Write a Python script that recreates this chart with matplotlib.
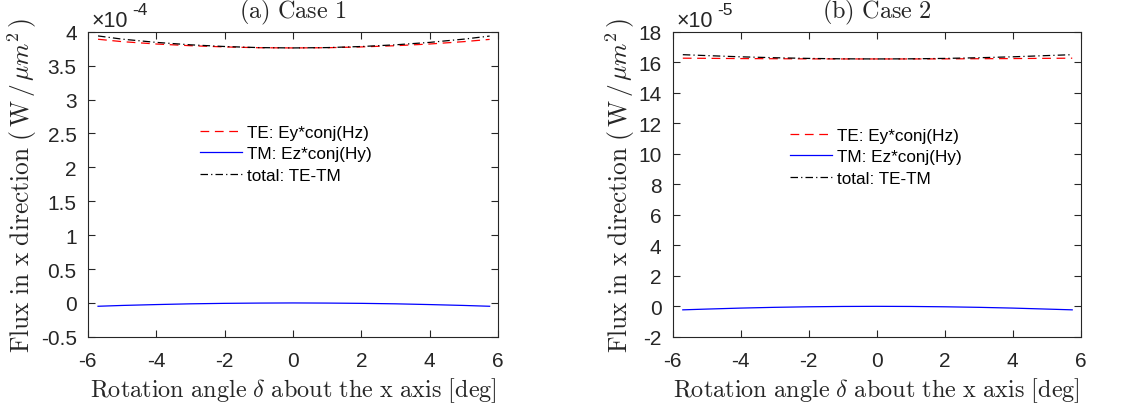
import matplotlib
matplotlib.use("Agg")
import matplotlib.pyplot as plt
import numpy as np

plt.rcParams['mathtext.fontset'] = 'cm'
plt.rcParams['font.family'] = ['Liberation Sans', 'DejaVu Sans']

# rotation angles (deg)
angle = [-5.7, -5.0, -4.0, -3.0, -2.0, -1.0, 0.0, 1.0, 2.0, 3.0, 4.0, 5.0, 5.75]

# case 1, units of 1e-4 W/um^2
te_case1 = [3.89, 3.855, 3.82, 3.795, 3.777, 3.765, 3.762, 3.765, 3.777, 3.795, 3.82, 3.855, 3.888]
tm_case1 = [-0.049, -0.037, -0.024, -0.013, -0.006, -0.002, 0.0, -0.002, -0.006, -0.013, -0.024, -0.037, -0.049]
tot_case1 = [3.939, 3.892, 3.844, 3.808, 3.783, 3.767, 3.762, 3.767, 3.783, 3.808, 3.844, 3.892, 3.937]

# case 2, units of 1e-5 W/um^2
te_case2 = [16.27, 16.26, 16.245, 16.235, 16.225, 16.22, 16.22, 16.22, 16.225, 16.235, 16.245, 16.26, 16.27]
tm_case2 = [-0.23, -0.18, -0.115, -0.065, -0.03, -0.008, 0.0, -0.008, -0.03, -0.065, -0.115, -0.18, -0.23]
tot_case2 = [16.5, 16.44, 16.36, 16.3, 16.255, 16.228, 16.22, 16.228, 16.255, 16.3, 16.36, 16.44, 16.5]

titles = ['(a)\\ Case\\ 1', '(b)\\ Case\\ 2']
exponents = ['-4', '-5']
ylims = [(-0.5, 4), (-2, 18)]
yticks = [np.arange(-0.5, 4.01, 0.5), np.arange(-2, 18.1, 2)]
ytick_labels = [['-0.5', '0', '0.5', '1', '1.5', '2', '2.5', '3', '3.5', '4'],
                ['-2', '0', '2', '4', '6', '8', '10', '12', '14', '16', '18']]
legend_pos = [(0.273, 0.695), (0.287, 0.685)]

fig = plt.figure(figsize=(11.4, 4.1), dpi=100)
ax1 = fig.add_axes([0.077, 0.176, 0.36, 0.744])
ax2 = fig.add_axes([0.590, 0.176, 0.358, 0.744])

dark = '#262626'
data = [(te_case1, tm_case1, tot_case1), (te_case2, tm_case2, tot_case2)]

for i, ax in enumerate([ax1, ax2]):
    te, tm, tot = data[i]
    ax.plot(angle, te, color='r', ls=(0, (7, 4.5)), lw=0.9, label='TE: Ey*conj(Hz)')
    ax.plot(angle, tm, color='b', ls='-', lw=0.9, label='TM: Ez*conj(Hy)')
    ax.plot(angle, tot, color='k', ls=(0, (6, 2.5, 1, 2.5)), lw=0.9, label='total: TE-TM')

    ax.set_xlim(-6, 6)
    ax.set_ylim(*ylims[i])
    ax.set_xticks(np.arange(-6, 6.1, 2))
    ax.set_xticklabels(['-6', '-4', '-2', '0', '2', '4', '6'])
    ax.set_yticks(yticks[i])
    ax.set_yticklabels(ytick_labels[i])
    ax.tick_params(direction='in', top=True, right=True, length=5, width=0.8,
                   labelsize=15, colors=dark)
    ax.tick_params(axis='x', pad=10)
    ax.tick_params(axis='y', pad=8)
    for sp in ax.spines.values():
        sp.set_color(dark)
        sp.set_linewidth(0.8)

    ax.set_title(r'$\mathrm{' + titles[i] + '}$', fontsize=17.5, color=dark, pad=10)
    ax.set_xlabel(r'$\mathrm{Rotation\ angle\ }\delta\mathrm{\ about\ the\ x\ axis\ [deg]}$',
                  fontsize=17.5, color=dark, labelpad=4)
    ax.set_ylabel(r'$\mathrm{Flux\ in\ x\ direction\ (\,W\,/\,}\mu m^2\mathrm{\,)}$',
                  fontsize=18.3, color=dark, labelpad=1)

    # MATLAB-style exponent label
    ax.annotate('\u00d710', xy=(0, 1), xycoords='axes fraction', xytext=(3, 4.5),
                textcoords='offset points', fontsize=15.5, color=dark, va='baseline')
    ax.annotate(exponents[i], xy=(0, 1), xycoords='axes fraction', xytext=(32, 12.5),
                textcoords='offset points', fontsize=12.5, color=dark, va='baseline')

    ax.legend(loc='upper left', bbox_to_anchor=legend_pos[i], frameon=False,
              fontsize=12.3, handlelength=2.45, handletextpad=0.3, labelspacing=0.38,
              borderpad=0, borderaxespad=0)

fig.savefig('out.png', dpi=100)
